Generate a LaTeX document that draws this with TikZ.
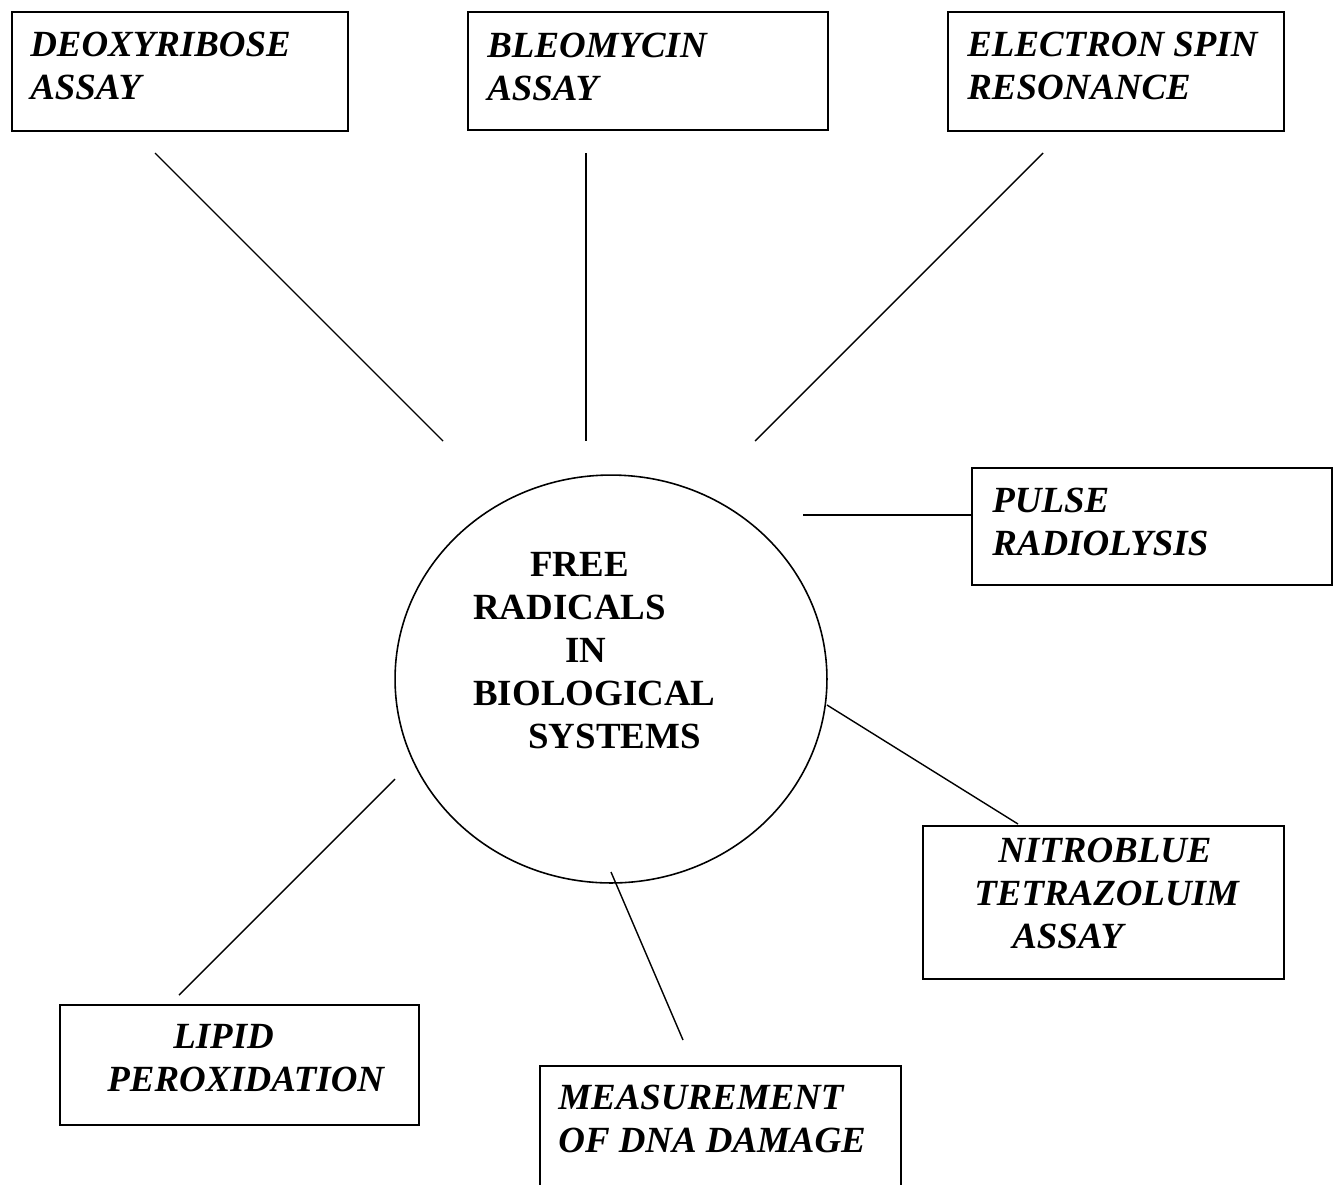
\documentclass[tikz,border=0pt]{standalone}
\usepackage{fontspec}
\setmainfont{Liberation Serif}
\usetikzlibrary{calc,positioning,shapes.geometric}

\begin{document}
\begin{tikzpicture}[
  x=0.02cm,y=-0.02cm,
  box/.style={draw,line width=1pt,anchor=north west,inner sep=0pt},
  lbl/.style={anchor=base west,inner sep=0pt,align=left,font=\fontsize{21}{24.2}\selectfont\bfseries\itshape},
  hub/.style={draw,ellipse,line width=0.9pt,minimum width=8.64cm,minimum height=8.16cm,inner sep=0pt},
  hubtxt/.style={anchor=base west,inner sep=0pt,align=left,font=\fontsize{21}{24.4}\selectfont\bfseries},
  spoke/.style={line width=0.8pt}
]
\useasboundingbox (0,0) rectangle (1337,1184);
\clip (0,0) rectangle (1337,1184);
% centre
\node[hub] (frs) at (611,679) {};
\node[hubtxt] (frstxt) at (473,748) {\hspace*{1.14cm}FREE\\RADICALS\\\hspace*{1.84cm}IN\\BIOLOGICAL\\\hspace*{1.1cm}SYSTEMS};
% method boxes (labels anchored at last baseline)
\node[box,minimum width=6.72cm,minimum height=2.38cm] (deoxy) at (11,11) {};
\node[lbl] (deoxytxt) at (30,99) {DEOXYRIBOSE\\ASSAY};
\node[box,minimum width=7.2cm,minimum height=2.36cm] (bleo) at (467,11) {};
\node[lbl] (bleotxt) at (487,100) {BLEOMYCIN\\ASSAY};
\node[box,minimum width=6.72cm,minimum height=2.38cm] (esr) at (947,11) {};
\node[lbl] (esrtxt) at (967,99) {ELECTRON SPIN\\RESONANCE};
\node[box,minimum width=7.2cm,minimum height=2.34cm] (pulse) at (971,467) {};
\node[lbl] (pulsetxt) at (992,555) {PULSE\\RADIOLYSIS};
\node[box,minimum width=7.22cm,minimum height=3.06cm] (nbt) at (922,825) {};
\node[lbl] (nbttxt) at (974,948) {\hspace*{0.48cm}NITROBLUE\\TETRAZOLUIM\\\hspace*{0.76cm}ASSAY};
\node[box,minimum width=7.18cm,minimum height=2.4cm] (lipid) at (59,1004) {};
\node[lbl] (lipidtxt) at (107,1091) {\hspace*{1.32cm}LIPID\\PEROXIDATION};
\node[box,minimum width=7.22cm,minimum height=2.6cm] (dna) at (539,1065) {};
\node[lbl] (dnatxt) at (558,1152) {MEASUREMENT\\OF DNA DAMAGE};
% spoke ends
\coordinate (d1) at (155,153);  \coordinate (d2) at (443,441);
\coordinate (b1) at (586,153);  \coordinate (b2) at (586,441);
\coordinate (e1) at (1043,153); \coordinate (e2) at (755,441);
\coordinate (p1) at (803,515);
\coordinate (n1) at (827,705);  \coordinate (n2) at (1018,824);
\coordinate (m1) at (611,872);  \coordinate (m2) at (683,1040);
\coordinate (l1) at (395,779);  \coordinate (l2) at (179,995);
% spokes
\draw[spoke] (d1) -- (d2); \draw[spoke] (b1) -- (b2); \draw[spoke] (e1) -- (e2);
\draw[spoke] (p1) -- (p1 -| pulse.west);
\draw[spoke] (n1) -- (n2); \draw[spoke] (m1) -- (m2); \draw[spoke] (l1) -- (l2);
\end{tikzpicture}
\end{document}
